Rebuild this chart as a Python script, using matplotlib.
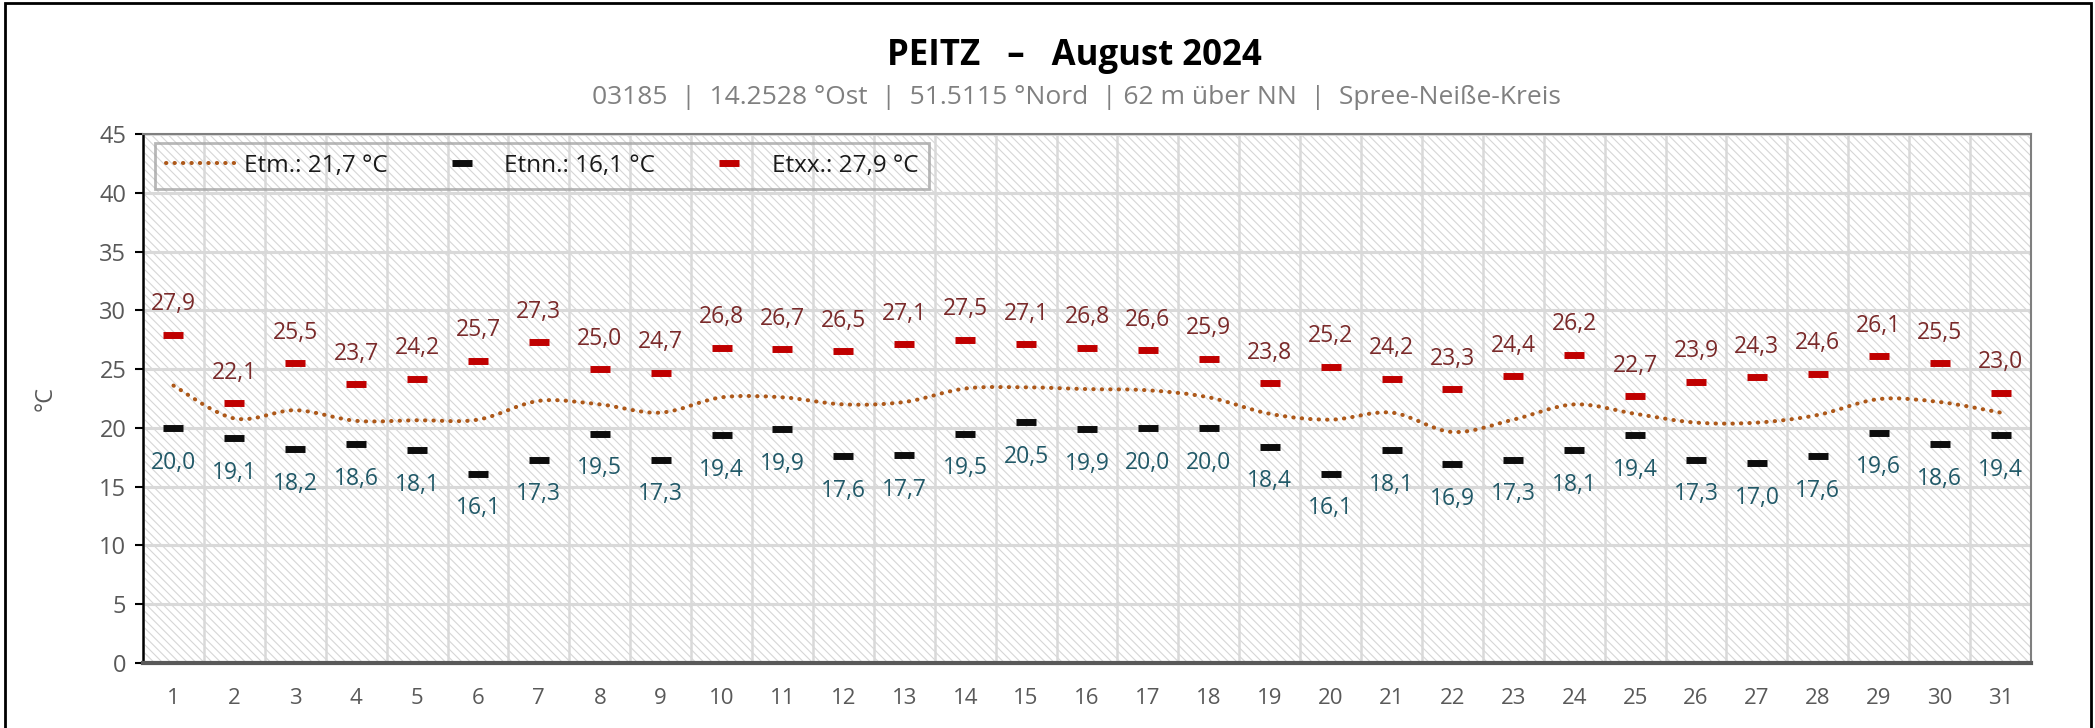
import matplotlib
matplotlib.use("Agg")
import matplotlib.pyplot as plt
from matplotlib import font_manager
from matplotlib.path import Path
from matplotlib.patches import PathPatch, Rectangle
from matplotlib.lines import Line2D
import numpy as np

# ---------------- data ----------------
days = list(range(1, 32))
t_max = [27.9, 22.1, 25.5, 23.7, 24.2, 25.7, 27.3, 25.0, 24.7, 26.8, 26.7, 26.5, 27.1, 27.5, 27.1, 26.8,
         26.6, 25.9, 23.8, 25.2, 24.2, 23.3, 24.4, 26.2, 22.7, 23.9, 24.3, 24.6, 26.1, 25.5, 23.0]
t_min = [20.0, 19.1, 18.2, 18.6, 18.1, 16.1, 17.3, 19.5, 17.3, 19.4, 19.9, 17.6, 17.7, 19.5, 20.5, 19.9,
         20.0, 20.0, 18.4, 16.1, 18.1, 16.9, 17.3, 18.1, 19.4, 17.3, 17.0, 17.6, 19.6, 18.6, 19.4]
t_mean = [23.6, 20.8, 21.5, 20.6, 20.65, 20.7, 22.3, 22.0, 21.3, 22.6, 22.6, 22.0, 22.2, 23.35, 23.45, 23.3,
          23.2, 22.6, 21.2, 20.7, 21.3, 19.65, 20.7, 22.0, 21.2, 20.45, 20.45, 21.1, 22.45, 22.2, 21.3]
legend_labels = ["Etm.: 21,7 °C", "Etnn.: 16,1 °C", "Etxx.: 27,9 °C"]
title = "PEITZ   –   August 2024"
subtitle = "03185  |  14.2528 °Ost  |  51.5115 °Nord  | 62 m über NN  |  Spree-Neiße-Kreis"
y_ticks = list(range(0, 50, 5))

# ---------------- fonts ----------------
avail = {f.name for f in font_manager.fontManager.ttflist}
fam = [f for f in ["Liberation Sans Narrow", "Open Sans", "DejaVu Sans"] if f in avail]
plt.rcParams['font.family'] = fam
plt.rcParams['hatch.linewidth'] = 0.8

fig = plt.figure(figsize=(20.95, 7.28), dpi=100)
ax = fig.add_axes([143/2095, 1-663/728, (2031-143)/2095, (663-134)/728])

ax.set_xlim(0.5, 31.5)
ax.set_ylim(0, 45)
ax.patch.set_facecolor('white')
# hatched background
ax.add_patch(Rectangle((0, 0), 1, 1, transform=ax.transAxes, facecolor='none', edgecolor='#d6d6d6',
                       lw=0, hatch='\\\\\\\\', zorder=0.1))

# grid
ax.set_yticks(y_ticks)
ax.set_xticks(days)
ax.set_xticks(np.arange(0.5, 32, 1), minor=True)
ax.grid(True, which='major', axis='y', color='#d9d9d9', lw=2.2)
ax.grid(True, which='minor', axis='x', color='#d9d9d9', lw=1.8)
ax.set_axisbelow(True)

ax.tick_params(axis='x', which='both', length=0, pad=18, labelsize=16, labelcolor='#595959')
ax.tick_params(axis='y', which='major', length=6, width=1.5, color='black', pad=6, labelsize=17,
               labelcolor='#595959')
for s in ['top', 'right']:
    ax.spines[s].set_color('#7f7f7f')
    ax.spines[s].set_linewidth(1.5)
ax.spines['left'].set_color('black')
ax.spines['left'].set_linewidth(1.8)
ax.spines['bottom'].set_color('#595959')
ax.spines['bottom'].set_linewidth(3)

# smoothed mean line (Bezier path through the points, Excel-like smoothing)
x = np.array(days, dtype=float)
y = np.array(t_mean)
verts = [(x[0], y[0])]
codes = [Path.MOVETO]
n = len(x)
for i in range(n - 1):
    p0 = (x[i-1], y[i-1]) if i > 0 else (x[i], y[i])
    p1 = (x[i], y[i])
    p2 = (x[i+1], y[i+1])
    p3 = (x[i+2], y[i+2]) if i + 2 < n else (x[i+1], y[i+1])
    c1 = (p1[0] + (p2[0]-p0[0])/6, p1[1] + (p2[1]-p0[1])/6)
    c2 = (p2[0] - (p3[0]-p1[0])/6, p2[1] - (p3[1]-p1[1])/6)
    verts += [c1, c2, p2]
    codes += [Path.CURVE4]*3
mean_col = '#ad5819'
dot_style = (0, (0.1, 2.0))
ax.add_patch(PathPatch(Path(verts, codes), fill=False, edgecolor=mean_col, lw=2.9,
                       linestyle=dot_style, capstyle='round', zorder=3))

# markers
ax.plot(days, t_min, ls='none', marker='_', ms=14, mew=5, color='#0d0d0d', zorder=4)
ax.plot(days, t_max, ls='none', marker='_', ms=14, mew=5, color='#c00000', zorder=4)

def fmt(v):
    return f"{v:.1f}".replace('.', ',')

for d, v in zip(days, t_max):
    ax.annotate(fmt(v), (d, v), xytext=(0, 22), textcoords='offset points', ha='center', va='center',
                fontsize=16.5, color='#7a2a2a', zorder=5)
for d, v in zip(days, t_min):
    ax.annotate(fmt(v), (d, v), xytext=(0, -25), textcoords='offset points', ha='center', va='center',
                fontsize=16.5, color='#215968', zorder=5)

# legend
handles = [Line2D([], [], color=mean_col, lw=2.9, linestyle=dot_style, dash_capstyle='round'),
           Line2D([], [], ls='none', marker='_', ms=14, mew=5, color='#0d0d0d'),
           Line2D([], [], ls='none', marker='_', ms=14, mew=5, color='#c00000')]
leg = ax.legend(handles, legend_labels, ncol=3, loc='upper left',
                frameon=True, fontsize=17.5, handlelength=2.9, columnspacing=1.6, handletextpad=0.3,
                borderpad=0.45, borderaxespad=0, fancybox=False, labelcolor='#1a1a1a')
leg.get_frame().set_edgecolor('#a6a6a6')
leg.get_frame().set_linewidth(2)
leg.get_frame().set_facecolor('none')
leg.set_bbox_to_anchor((12/1888, 1-(143-134)/529), transform=ax.transAxes)

ax.set_ylabel('°C', fontsize=17, color='#595959', labelpad=30)

fig.text(0.513, 1-56/728, title, ha='center', va='center', fontsize=25, fontweight='bold', color='black')
fig.text(0.514, 1-97/728, subtitle, ha='center', va='center', fontsize=19, color='#808080')

# outer border
fig.patches.append(Rectangle((5/2095, -0.05), (2091-5)/2095, 1.05-3/728, transform=fig.transFigure,
                             fill=False, edgecolor='black', lw=2))

fig.savefig('out.png', dpi=100)
